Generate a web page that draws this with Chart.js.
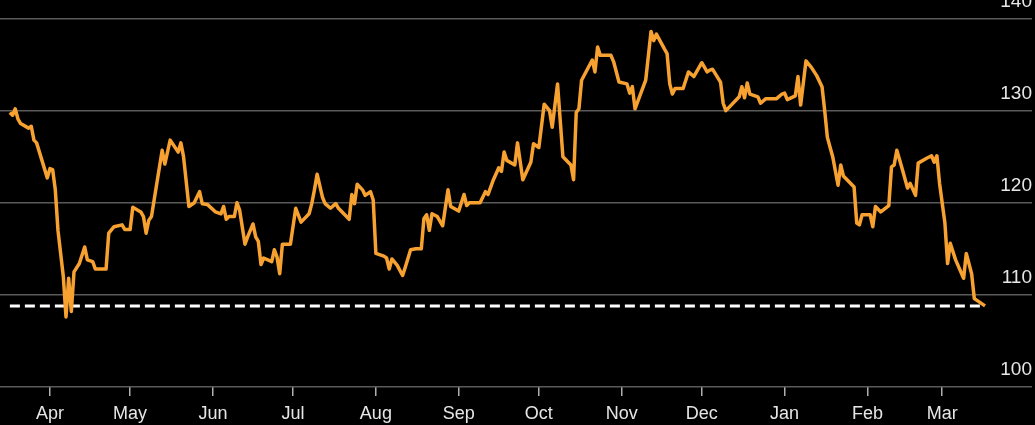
<!DOCTYPE html>
<html>
<head>
<meta charset="utf-8">
<script src="https://cdn.jsdelivr.net/npm/chart.js@4.4.1/dist/chart.umd.min.js"></script>
<style>
    html, body { margin: 0; padding: 0; background: #000; }
    #chart-container { width: 1035px; height: 425px; position: relative; }
</style>
</head>
<body>
<div id="chart-container"><canvas id="lineChart"></canvas></div>
<script>
// days counted from Apr 1 (Mar 1 of next year = day 334)
const dayOffsets = [
    -15, -14, -13, -12, -11, -8, -7, -6, -5, -1,
    0, 1, 2, 3, 5, 6, 7, 8, 9, 11,
    13, 14, 16, 17, 21, 22, 24, 27, 28, 30,
    31, 34, 35, 36, 37, 38, 42, 43, 45, 48,
    49, 50, 52, 54, 56, 57, 59, 62, 64, 65,
    66, 67, 69, 70, 71, 73, 74, 76, 77, 78,
    79, 80, 83, 84, 85, 86, 87, 90, 92, 94,
    97, 98, 99, 100, 102, 103, 105, 107, 108, 110,
    112, 113, 114, 115, 117, 118, 120, 121, 122, 125,
    126, 127, 128, 130, 132, 133, 135, 137, 139, 140,
    141, 142, 143, 145, 147, 149, 150, 153, 155, 156,
    157, 161, 163, 164, 166, 168, 169, 170, 171, 174,
    175, 177, 180, 181, 183, 185, 187, 188, 190, 192,
    194, 195, 196, 197, 198, 199, 203, 204, 205, 206,
    210, 211, 213, 216, 217, 218, 219, 223, 225, 226,
    227, 230, 231, 232, 233, 234, 237, 239, 241, 244,
    246, 247, 248, 251, 252, 253, 255, 258, 259, 260,
    261, 262, 265, 266, 268, 272, 274, 275, 276, 279,
    280, 281, 283, 285, 287, 289, 290, 291, 293, 295,
    296, 297, 301, 302, 303, 304, 307, 308, 309, 311,
    314, 315, 316, 317, 319, 321, 322, 324, 325, 328,
    330, 331, 332, 333, 335, 336, 337, 339, 342, 343,
    345, 346, 347, 350
];

const prices = [
    129.8, 129.5, 130.2, 129.1, 128.6, 128.1, 128.3, 126.8, 126.5, 122.7,
    123.7, 123.6, 121.4, 117.0, 112.0, 107.6, 111.8, 108.2, 112.5, 113.4,
    115.2, 113.8, 113.6, 112.8, 112.8, 116.7, 117.4, 117.6, 117.1, 117.1,
    119.5, 119.0, 118.5, 116.7, 118.1, 118.5, 125.7, 124.2, 126.8, 125.5,
    126.5, 125.0, 119.6, 120.0, 121.2, 119.9, 119.8, 119.0, 118.8, 119.6,
    118.2, 118.5, 118.5, 120.0, 119.2, 115.5, 116.3, 117.7, 116.3, 115.8,
    113.3, 114.0, 113.6, 114.9, 114.1, 112.3, 115.5, 115.5, 119.4, 117.9,
    118.8, 119.9, 121.4, 123.1, 120.6, 119.9, 119.4, 119.9, 119.4, 118.8,
    118.2, 120.9, 119.9, 122.0, 121.4, 120.8, 121.2, 120.3, 114.5, 114.2,
    114.0, 112.8, 113.9, 113.2, 112.1, 113.0, 114.9, 115.0, 115.0, 118.3,
    118.7, 117.0, 118.8, 118.5, 117.5, 121.4, 119.6, 119.1, 120.9, 119.7,
    120.0, 120.0, 121.2, 120.9, 122.5, 123.8, 123.4, 125.5, 124.6, 124.1,
    126.5, 122.5, 124.4, 126.4, 126.0, 130.7, 130.0, 128.2, 132.9, 125.0,
    124.4, 124.1, 122.5, 129.8, 130.2, 133.3, 135.5, 134.2, 136.9, 136.0,
    136.0, 135.3, 133.1, 132.9, 131.9, 132.6, 130.2, 133.3, 138.6, 137.6,
    138.3, 136.7, 136.2, 132.9, 131.8, 132.4, 132.4, 134.2, 133.7, 135.2,
    134.2, 134.4, 134.5, 133.1, 130.8, 130.0, 130.6, 131.5, 132.6, 131.4,
    133.0, 131.8, 131.5, 130.8, 131.3, 131.3, 131.8, 131.9, 131.2, 131.6,
    133.7, 130.6, 135.4, 134.7, 133.8, 132.6, 130.0, 127.1, 125.0, 121.9,
    124.1, 122.9, 121.7, 117.8, 117.6, 118.7, 118.7, 117.4, 119.6, 119.0,
    119.7, 123.9, 124.1, 125.7, 123.7, 121.6, 122.1, 120.8, 124.3, 124.8,
    125.1, 124.4, 125.1, 122.1, 117.8, 113.4, 115.6, 113.8, 111.8, 114.5,
    112.3, 109.6, 109.4, 108.8
];

const monthStarts = [0, 30, 61, 91, 122, 153, 183, 214, 244, 275, 306, 334];
const monthLabels = ["Apr", "May", "Jun", "Jul", "Aug", "Sep", "Oct", "Nov", "Dec", "Jan", "Feb", "Mar"];

const lowLevel = 108.8;
const lowSpan = [-15, 350];

const yTicks = [100, 110, 120, 130, 140];

const ctx = document.getElementById("lineChart").getContext("2d");

new Chart(ctx, {
    type: "line",
    data: {
        datasets: [
            {
                data: dayOffsets.map((d, i) => ({ x: d, y: prices[i] })),
                borderColor: "#f7a131",
                borderWidth: 3.5,
                pointRadius: 0,
                tension: 0,
                borderJoinStyle: "round",
                order: 0
            },
            {
                data: lowSpan.map(d => ({ x: d, y: lowLevel })),
                borderColor: "#ffffff",
                borderWidth: 3,
                borderDash: [10, 5],
                pointRadius: 0,
                order: 1
            }
        ]
    },
    options: {
        responsive: true,
        maintainAspectRatio: false,
        animation: false,
        layout: { padding: { top: 18.5, right: 3, bottom: 0, left: 0 } },
        plugins: {
            legend: { display: false },
            tooltip: { enabled: false }
        },
        scales: {
            x: {
                type: "linear",
                min: -18.7,
                max: 367.6,
                afterBuildTicks: scale => {
                    scale.ticks = monthStarts.map(v => ({ value: v }));
                },
                afterFit: scale => {
                    scale.height = 38;
                },
                grid: {
                    drawOnChartArea: false,
                    drawTicks: true,
                    tickLength: 9,
                    color: "#b0b0b0",
                    lineWidth: 1.5
                },
                border: { display: false },
                ticks: {
                    autoSkip: false,
                    maxRotation: 0,
                    padding: 7,
                    color: "#e6e6e6",
                    font: { family: "Liberation Sans", size: 18 },
                    callback: (value, index) => monthLabels[index]
                }
            },
            y: {
                position: "right",
                min: 100,
                max: 140,
                afterBuildTicks: scale => {
                    scale.ticks = yTicks.map(v => ({ value: v }));
                },
                grid: {
                    color: "#5a5a5a",
                    lineWidth: 1.5,
                    drawTicks: false
                },
                border: { display: false },
                ticks: {
                    mirror: true,
                    padding: 0,
                    labelOffset: -17,
                    color: "#e6e6e6",
                    font: { family: "Liberation Sans", size: 19 }
                }
            }
        }
    }
});
</script>
</body>
</html>
